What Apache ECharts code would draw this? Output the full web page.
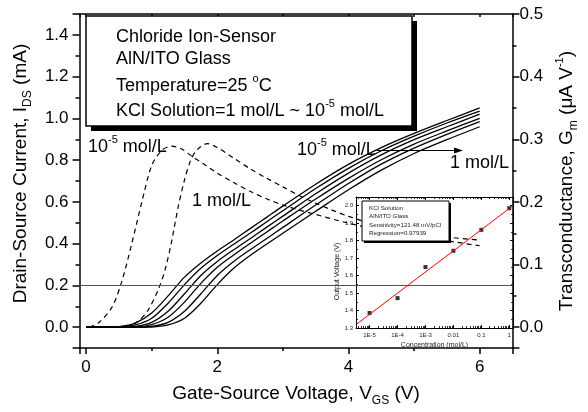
<!DOCTYPE html>
<html>
<head>
<meta charset="utf-8">
<script src="https://cdn.jsdelivr.net/npm/echarts@6/dist/echarts.min.js"></script>
<style>
  html, body { margin: 0; padding: 0; background: #fff; }
  #chart { width: 588px; height: 412px; }
</style>
</head>
<body>
<div id="chart"></div>
<script>
const FONT = '"Liberation Sans", Arial, sans-serif';

// Id-Vgs transfer curves (mA), one per KCl concentration
const vgs = [0, 0.25, 0.5, 0.75, 1.0, 1.25, 1.5, 1.75, 2.0, 2.25, 2.5, 2.75, 3.0, 3.5, 4.0, 4.5, 5.0, 5.5, 6.0];
const idsKcl1e5 = [0, 0, 0.003, 0.02, 0.068, 0.15, 0.24, 0.308, 0.365, 0.418, 0.472, 0.526, 0.58, 0.685, 0.78, 0.86, 0.928, 0.99, 1.05];
const idsKcl1e4 = [0, 0, 0.002, 0.011, 0.043, 0.115, 0.204, 0.282, 0.343, 0.397, 0.45, 0.504, 0.558, 0.664, 0.761, 0.845, 0.915, 0.978, 1.035];
const idsKcl1e3 = [0, 0, 0.001, 0.004, 0.023, 0.076, 0.16, 0.248, 0.315, 0.371, 0.424, 0.478, 0.532, 0.639, 0.738, 0.825, 0.898, 0.96, 1.02];
const idsKcl1e2 = [0, 0, 0, 0.001, 0.013, 0.048, 0.12, 0.21, 0.287, 0.346, 0.401, 0.455, 0.509, 0.614, 0.713, 0.802, 0.877, 0.94, 1.0];
const idsKcl1e1 = [0, 0, 0, 0, 0.004, 0.023, 0.076, 0.16, 0.248, 0.315, 0.371, 0.424, 0.478, 0.585, 0.688, 0.781, 0.858, 0.924, 0.985];
const idsKcl1 = [0, 0, 0, 0, 0.001, 0.011, 0.043, 0.115, 0.204, 0.282, 0.343, 0.397, 0.45, 0.555, 0.658, 0.752, 0.832, 0.898, 0.96];

// transconductance (uA/V), dashed
const gmVgs1e5 = [0.05, 0.2, 0.4, 0.55, 0.7, 0.85, 1.0, 1.15, 1.3, 1.45, 1.6, 1.8, 2.0, 2.25, 2.5, 2.75, 3.0, 3.25, 3.5, 4.0, 4.5, 5.0, 5.5, 6.0];
const gmKcl1e5 = [0, 0.008, 0.033, 0.075, 0.135, 0.2, 0.258, 0.282, 0.289, 0.285, 0.274, 0.26, 0.246, 0.231, 0.217, 0.205, 0.195, 0.187, 0.18, 0.166, 0.155, 0.146, 0.138, 0.13];
const gmVgs1 = [0.6, 0.8, 0.95, 1.1, 1.2, 1.3, 1.4, 1.5, 1.6, 1.7, 1.85, 2.0, 2.25, 2.5, 2.75, 3.0, 3.25, 3.5, 3.75, 4.0, 4.5, 5.0, 5.5, 6.0];
const gmKcl1 = [0, 0.01, 0.028, 0.06, 0.09, 0.135, 0.19, 0.235, 0.268, 0.284, 0.293, 0.287, 0.27, 0.253, 0.238, 0.224, 0.21, 0.198, 0.187, 0.177, 0.161, 0.151, 0.144, 0.139];

const refCurrent = 0.2;

// inset: output voltage vs concentration
const concentration = [1e-5, 1e-4, 1e-3, 0.01, 0.1, 1];
const outputVoltage = [1.386, 1.471, 1.649, 1.742, 1.862, 1.986];
const fitConc = [3.3e-6, 1.35];
const fitVoltage = [1.32, 2.0];

const legendLines = [
  'Chloride Ion-Sensor',
  'AlN/ITO Glass',
  'Temperature=25 {sup|o}C',
  'KCl Solution=1 mol/L ~ 10{sup|-5} mol/L'
];
const insetLegendLines = ['KCl Solution', 'AlN/ITO Glass', 'Sensitivity=121.48 mV/pCl', 'Regression=0.97939'];

const pair = (xs, ys) => xs.map((x, i) => [x, ys[i]]);

const chart = echarts.init(document.getElementById('chart'));

const black = { color: '#000', width: 1.5 };
const thin = { color: '#000', width: 1 };
const richTok = {
  sub: { fontSize: 12, verticalAlign: 'bottom', lineHeight: 12, fontFamily: FONT, color: '#000', fill: '#000' },
  sup: { fontSize: 11, verticalAlign: 'top', lineHeight: 11, fontFamily: FONT, color: '#000', fill: '#000' }
};
const nameStyle = { fontSize: 19, fontFamily: FONT, color: '#000', lineHeight: 26, rich: richTok };
const tickLabel = { color: '#000', fontSize: 17, fontFamily: FONT };

const fmtConc = (v) => {
  const e = Math.round(Math.log10(v));
  return e >= -2 ? String(Math.pow(10, e)) : '1E' + e;
};

const series = [];
[idsKcl1e5, idsKcl1e4, idsKcl1e3, idsKcl1e2, idsKcl1e1, idsKcl1].forEach((ys, i) => {
  const s = {
    type: 'line', xAxisIndex: 0, yAxisIndex: 0,
    data: pair(vgs, ys), smooth: 0.3, symbol: 'none', silent: true,
    lineStyle: { color: '#000', width: 1.3 }
  };
  if (i === 0) {
    s.markLine = {
      silent: true, symbol: 'none', label: { show: false },
      lineStyle: { color: '#555', width: 1, type: 'solid' },
      data: [{ yAxis: refCurrent }]
    };
  }
  series.push(s);
});
series.push({
  type: 'line', xAxisIndex: 0, yAxisIndex: 1, data: pair(gmVgs1e5, gmKcl1e5),
  smooth: 0.3, symbol: 'none', silent: true, lineStyle: { color: '#000', width: 1.2, type: [5, 4] }
});
series.push({
  type: 'line', xAxisIndex: 0, yAxisIndex: 1, data: pair(gmVgs1, gmKcl1),
  smooth: 0.3, symbol: 'none', silent: true, lineStyle: { color: '#000', width: 1.2, type: [5, 4] }
});
series.push({
  type: 'line', xAxisIndex: 2, yAxisIndex: 2, data: pair(fitConc, fitVoltage),
  symbol: 'none', silent: true, lineStyle: { color: '#f00', width: 1 }
});
series.push({
  type: 'scatter', xAxisIndex: 2, yAxisIndex: 2, data: pair(concentration, outputVoltage),
  symbol: 'rect', symbolSize: 4, silent: true, itemStyle: { color: '#000' }
});

const graphic = [
  { type: 'rect', shape: { x: 91, y: 21, width: 326, height: 110 }, style: { fill: '#000' }, z: 100 },
  { type: 'rect', shape: { x: 86, y: 16, width: 326, height: 110 }, style: { fill: '#fff', stroke: '#000', lineWidth: 1.5 }, z: 101 },
  { type: 'rect', shape: { x: 364, y: 203, width: 87, height: 40 }, style: { fill: '#000' }, z: 100 },
  { type: 'rect', shape: { x: 362, y: 201, width: 87, height: 40 }, style: { fill: '#fff', stroke: '#000', lineWidth: 1 }, z: 101 },
  { type: 'polyline', shape: { points: [[377, 150.5], [456, 150.5]] }, style: { stroke: '#000', lineWidth: 1 }, z: 101 },
  { type: 'polygon', shape: { points: [[463, 150.5], [454, 147.5], [454, 153.5]] }, style: { fill: '#000' }, z: 101 }
];
const legendY = [37, 59, 86, 111];
legendLines.forEach((t, i) => {
  graphic.push({
    type: 'text', x: 116, y: legendY[i], z: 102,
    style: { text: t, fontSize: 18, fontFamily: FONT, fill: '#000', lineHeight: 26, verticalAlign: 'middle', rich: richTok }
  });
});
const insetY = [208, 216.5, 225, 233.5];
insetLegendLines.forEach((t, i) => {
  graphic.push({
    type: 'text', x: 369, y: insetY[i], z: 102,
    style: { text: t, fontSize: 6.2, fontFamily: FONT, fill: '#222', verticalAlign: 'middle' }
  });
});
[
  ['10{sup|-5} mol/L', 88, 147],
  ['1 mol/L', 192, 201],
  ['10{sup|-5} mol/L', 297, 150],
  ['1 mol/L', 450, 163.5]
].forEach(([t, x, y]) => {
  graphic.push({
    type: 'text', x, y, z: 102,
    style: { text: t, fontSize: 18, fontFamily: FONT, fill: '#000', lineHeight: 26, verticalAlign: 'middle', rich: richTok }
  });
});

chart.setOption({
  backgroundColor: '#fff',
  animation: false,
  grid: [
    { left: 79, right: 68, top: 14, bottom: 58 },
    { left: 356, right: 75, top: 197, bottom: 84 }
  ],
  xAxis: [
    {
      gridIndex: 0, type: 'value', min: -0.1, max: 6.5, splitNumber: 3,
      axisLine: { show: true, onZero: false, lineStyle: black }, axisTick: { show: true, length: 6, lineStyle: black },
      minorTick: { show: true, splitNumber: 2, length: 3, lineStyle: black },
      splitLine: { show: false },
      axisLabel: { ...tickLabel, margin: 11, showMinLabel: false, showMaxLabel: false },
      name: 'Gate-Source Voltage, V{sub|GS} (V)', nameLocation: 'middle', nameGap: 30, nameTextStyle: nameStyle
    },
    {
      gridIndex: 0, type: 'value', position: 'top', min: -0.1, max: 6.5, splitNumber: 3,
      axisLine: { show: true, onZero: false, lineStyle: black }, axisTick: { show: true, inside: true, length: 3, lineStyle: black },
      minorTick: { show: true, splitNumber: 2, length: 3, lineStyle: black },
      splitLine: { show: false }, axisLabel: { show: false }
    },
    {
      gridIndex: 1, type: 'log', logBase: 10, min: 3.26e-6, max: 1.36,
      axisLine: { show: true, onZero: false, lineStyle: thin },
      axisTick: { show: true, inside: true, length: 3, lineStyle: thin },
      minorTick: { show: true, splitNumber: 9, length: 2, lineStyle: { color: '#000', width: 0.8 } },
      splitLine: { show: false },
      axisLabel: { fontSize: 6, fontFamily: FONT, color: '#222', margin: 4, showMinLabel: false, showMaxLabel: false, formatter: fmtConc },
      name: 'Concentration (mol/L)', nameLocation: 'middle', nameGap: 14,
      nameTextStyle: { fontSize: 7, fontFamily: FONT, color: '#222' }
    },
    {
      gridIndex: 1, type: 'log', logBase: 10, position: 'top', min: 3.26e-6, max: 1.36,
      axisLine: { show: true, onZero: false, lineStyle: thin },
      axisTick: { show: true, inside: true, length: 3, lineStyle: thin },
      minorTick: { show: true, splitNumber: 9, length: 2, lineStyle: { color: '#000', width: 0.8 } },
      splitLine: { show: false }, axisLabel: { show: false }
    }
  ],
  yAxis: [
    {
      gridIndex: 0, type: 'value', position: 'left', min: -0.1, max: 1.5, splitNumber: 8,
      axisLine: { show: true, onZero: false, lineStyle: black }, axisTick: { show: true, length: 7, lineStyle: black },
      minorTick: { show: true, splitNumber: 2, length: 4, lineStyle: black },
      splitLine: { show: false },
      axisLabel: { ...tickLabel, margin: 11, showMinLabel: false, showMaxLabel: false, formatter: (v) => v.toFixed(1) },
      name: 'Drain-Source Current, I{sub|DS} (mA)', nameLocation: 'middle', nameRotate: 90, nameGap: 41,
      nameTextStyle: { ...nameStyle, padding: [0, 0, 0, 15] }
    },
    {
      gridIndex: 0, type: 'value', position: 'right', min: -1 / 30, max: 0.5, splitNumber: 5,
      axisLine: { show: true, onZero: false, lineStyle: black }, axisTick: { show: true, length: 7, lineStyle: black },
      minorTick: { show: true, splitNumber: 2, length: 4, lineStyle: black },
      splitLine: { show: false },
      axisLabel: { ...tickLabel, margin: 7, showMinLabel: false, formatter: (v) => v.toFixed(1) },
      name: 'Transconductance, G{sub|m} (\u03bcA V{sup|-1})', nameLocation: 'middle', nameRotate: 90, nameGap: 36,
      nameTextStyle: nameStyle
    },
    {
      gridIndex: 1, type: 'value', min: 1.3, max: 2.05, interval: 0.1,
      axisLine: { show: true, onZero: false, lineStyle: thin },
      axisTick: { show: true, inside: true, length: 3, lineStyle: thin },
      minorTick: { show: true, splitNumber: 2, length: 2, lineStyle: { color: '#000', width: 0.8 } },
      splitLine: { show: false },
      axisLabel: { fontSize: 6, fontFamily: FONT, color: '#222', margin: 3, showMaxLabel: false, formatter: (v) => v.toFixed(1) },
      name: 'Output Voltage (V)', nameLocation: 'middle', nameRotate: 90, nameGap: 13,
      nameTextStyle: { fontSize: 7, fontFamily: FONT, color: '#222', padding: [0, 18, 0, 0] }
    },
    {
      gridIndex: 1, type: 'value', position: 'right', min: 1.3, max: 2.05, interval: 0.1,
      axisLine: { show: true, onZero: false, lineStyle: thin },
      axisTick: { show: true, inside: true, length: 3, lineStyle: thin },
      minorTick: { show: true, splitNumber: 2, length: 2, lineStyle: { color: '#000', width: 0.8 } },
      splitLine: { show: false }, axisLabel: { show: false }
    }
  ],
  series,
  graphic
});

window.addEventListener('resize', () => chart.resize());
</script>
</body>
</html>
